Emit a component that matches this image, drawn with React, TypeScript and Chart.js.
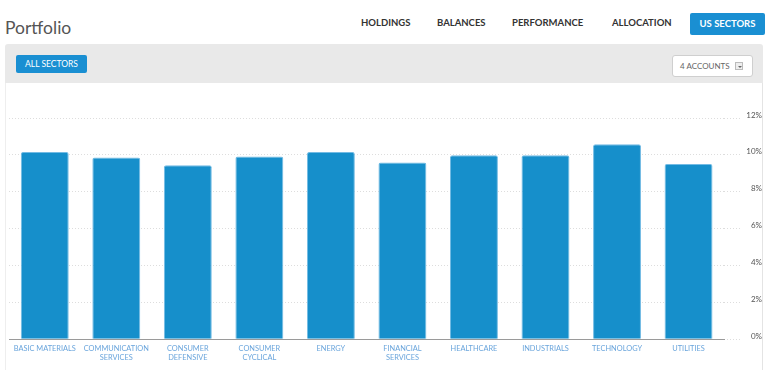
import React, { useEffect, useRef } from "react";
import { Chart, registerables } from "chart.js";

Chart.register(...registerables);

const sectors: (string | string[])[] = [
  "BASIC MATERIALS",
  ["COMMUNICATION", "SERVICES"],
  ["CONSUMER", "DEFENSIVE"],
  ["CONSUMER", "CYCLICAL"],
  "ENERGY",
  ["FINANCIAL", "SERVICES"],
  "HEALTHCARE",
  "INDUSTRIALS",
  "TECHNOLOGY",
  "UTILITIES",
];
const weights = [10.16, 9.86, 9.44, 9.91, 10.16, 9.59, 9.98, 9.98, 10.57, 9.51];
const yTicks = [0, 2, 4, 6, 8, 10, 12];
const navItems = ["HOLDINGS", "BALANCES", "PERFORMANCE", "ALLOCATION"];
const navX = [361, 437, 512, 612];

const FONT = "Lato, 'Open Sans', sans-serif";

export default function App() {
  const ref = useRef<HTMLCanvasElement>(null);
  useEffect(() => {
    const chart = new Chart(ref.current!, {
      type: "bar",
      data: {
        labels: sectors,
        datasets: [
          {
            data: weights,
            backgroundColor: "#168fcb",
            borderColor: "#73bbe4",
            borderWidth: 1,
            borderRadius: 2,
            borderSkipped: "bottom",
            categoryPercentage: 1,
            barPercentage: 0.67,
          },
        ],
      },
      options: {
        animation: false,
        responsive: false,
        maintainAspectRatio: false,
        layout: { padding: { left: 4, right: 1, top: 35, bottom: 3 } },
        plugins: { legend: { display: false }, tooltip: { enabled: false } },
        scales: {
          x: {
            grid: { display: false, drawTicks: false },
            border: { display: true, color: "#9a9a9a", dash: [1, 1] },
            ticks: {
              color: "#6aa5dc",
              font: { family: FONT, size: 7.4 },
              padding: 5,
              maxRotation: 0,
              autoSkip: false,
            },
          },
          y: {
            position: "right",
            min: 0,
            max: 12,
            afterBuildTicks: (s: any) => {
              s.ticks = yTicks.map((v) => ({ value: v }));
            },
            grid: {
              color: "#dddddd",
              tickColor: "#dddddd",
              tickLength: 16,
              tickBorderDash: [1, 2],
            },
            border: { display: false, dash: [1, 2] },
            ticks: {
              color: "#555",
              font: { family: FONT, size: 8 },
              padding: 3,
              labelOffset: -3,
              crossAlign: "far",
              callback: (v: any) => v + "%",
            },
          },
        },
      },
    });
    return () => chart.destroy();
  }, []);

  return (
    <div
      style={{
        position: "fixed",
        left: 0,
        top: 0,
        width: 768,
        height: 370,
        background: "#fff",
        fontFamily: FONT,
        overflow: "hidden",
      }}
    >
      <div style={{ position: "absolute", left: 5, top: 17, fontSize: 17.5, color: "#555" }}>Portfolio</div>
      {navItems.map((n, i) => (
        <div
          key={n}
          style={{
            position: "absolute",
            left: navX[i],
            top: 17,
            fontSize: 9.5,
            fontWeight: 700,
            color: "#333",
          }}
        >
          {n}
        </div>
      ))}
      <div
        style={{
          position: "absolute",
          left: 690,
          top: 13,
          width: 75,
          height: 22,
          background: "#1a8fd2",
          color: "#fff",
          fontSize: 9.5,
          fontWeight: 700,
          lineHeight: "22px",
          textAlign: "center",
          borderRadius: 2,
        }}
      >
        US SECTORS
      </div>
      <div
        style={{
          position: "absolute",
          left: 5,
          top: 44,
          width: 758,
          height: 39,
          background: "#e9e9e9",
          borderRadius: "3px 3px 0 0",
        }}
      />
      <div
        style={{
          position: "absolute",
          left: 16,
          top: 55,
          width: 71,
          height: 18,
          background: "#1a8fd2",
          color: "#fff",
          fontSize: 8.5,
          lineHeight: "18px",
          textAlign: "center",
          borderRadius: 2,
        }}
      >
        ALL SECTORS
      </div>
      <div
        style={{
          position: "absolute",
          left: 672,
          top: 55,
          width: 79,
          height: 20,
          background: "#fff",
          border: "1px solid #cfcfcf",
          borderRadius: 3,
          fontSize: 8,
          color: "#666",
          lineHeight: "20px",
        }}
      >
        <span style={{ position: "absolute", left: 7 }}>4 ACCOUNTS</span>
        <span
          style={{
            position: "absolute",
            left: 62,
            top: 6,
            width: 8,
            height: 8,
            border: "1px solid #bbb",
            background: "#eee",
            boxSizing: "border-box",
          }}
        >
          <span
            style={{
              position: "absolute",
              left: 1.5,
              top: 2.5,
              width: 0,
              height: 0,
              borderLeft: "2px solid transparent",
              borderRight: "2px solid transparent",
              borderTop: "2px solid #666",
            }}
          />
        </span>
      </div>
      <div
        style={{
          position: "absolute",
          left: 5,
          top: 83,
          width: 756,
          height: 287,
          borderLeft: "1px solid #eee",
          borderRight: "1px solid #e4e4e4",
        }}
      />
      <canvas
        ref={ref}
        width={758}
        height={287}
        style={{ position: "absolute", left: 5, top: 83, width: 758, height: 287 }}
      />
    </div>
  );
}
